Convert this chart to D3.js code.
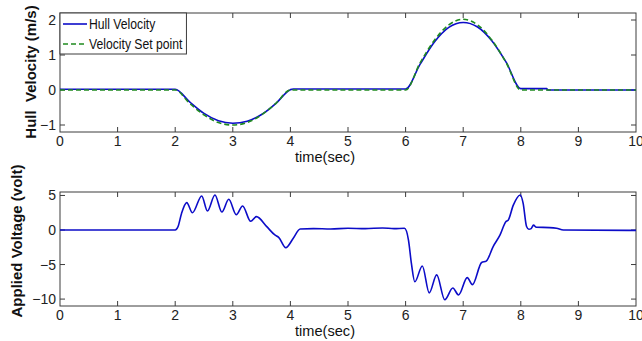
<!DOCTYPE html>
<html>
<head>
<meta charset="utf-8">
<script src="https://cdn.jsdelivr.net/npm/d3@7"></script>
<style>
  body { margin: 0; background: #fff; }
  svg { display: block; }
</style>
</head>
<body>
<svg id="svg" width="642" height="341"></svg>
<script>
// time axis + tick labels
const xTicks = [0, 1, 2, 3, 4, 5, 6, 7, 8, 9, 10]
const velTicks = [-1, 0, 1, 2]
const voltTicks = [-10, -5, 0, 5]

// velocity set point (m/s)
const spTime = [0, 2, 2.25, 2.5, 2.75, 3, 3.25, 3.5, 3.75, 4, 6, 6.25, 6.5, 6.75, 7, 7.25, 7.5, 7.75, 8, 10]
const spValue = [0, 0, -0.38, -0.71, -0.93, -1.0, -0.93, -0.71, -0.38, 0, 0, 0.77, 1.42, 1.86, 2.02, 1.86, 1.42, 0.77, 0, 0]

// measured hull velocity (m/s)
const hullTime = [0, 2, 2.25, 2.5, 2.75, 3, 3.25, 3.5, 3.75, 4, 4.05, 6, 6.25, 6.5, 6.75, 7, 7.25, 7.5, 7.75, 8, 8.05, 8.45, 8.47, 10]
const hullValue = [0.02, 0.02, -0.34, -0.67, -0.88, -0.95, -0.89, -0.7, -0.38, 0.01, 0.03, 0.03, 0.73, 1.37, 1.79, 1.93, 1.8, 1.4, 0.78, 0.04, 0.04, 0.04, 0, 0]

// applied voltage (volt)
const voltTime = [0, 2, 2.05, 2.11, 2.2, 2.3, 2.46, 2.56, 2.69, 2.81, 2.93, 3.06, 3.17, 3.31, 3.41, 3.59, 3.73, 3.8, 3.92, 4.05, 4.17, 4.4, 4.7, 5.0, 5.3, 5.6, 5.8, 5.98, 6.05, 6.1, 6.16, 6.29, 6.41, 6.54, 6.68, 6.82, 6.92, 7.07, 7.16, 7.32, 7.4, 7.52, 7.64, 7.74, 7.78, 7.87, 7.99, 8.04, 8.1, 8.14, 8.18, 8.22, 8.27, 8.5, 8.62, 8.74, 10]
const voltValue = [0, 0, 0.5, 2.4, 3.96, 2.5, 4.93, 2.75, 5.07, 2.6, 4.44, 2.22, 3.48, 1.26, 1.93, 0.48, -0.72, -1.1, -2.56, -1.2, 0.14, 0.2, 0.15, 0.25, 0.2, 0.3, 0.2, 0.25, -1.45, -4.8, -7.5, -5.2, -9.1, -6.5, -10.1, -8.4, -9.4, -6.9, -7.9, -4.7, -4.5, -2.4, -0.72, 1.2, 1.4, 3.6, 5.07, 3.9, 0.5, 0.1, 0.2, 0.7, 0.4, 0.35, 0.25, 0, -0.05]

const svg = d3.select('#svg')
const axisColor = '#3c3c3c'
const lineBlue = '#0c0cc8'
const lineGreen = '#1f8a1f'
const tickFont = '"Liberation Sans", Arial, sans-serif'

const drawPanel = ({ top, bottom, yDomain, yTicks, yLabel, yLabelX, yLabelY }) => {
  const x = d3.scaleLinear().domain([0, 10]).range([60, 636])
  const y = d3.scaleLinear().domain(yDomain).range([bottom, top])
  const g = svg.append('g')

  // ticks pointing inward on all four sides (matlab box)
  const tickLen = 5
  g.selectAll('.xt')
    .data(xTicks.slice(1, -1))
    .enter()
    .append('path')
    .attr('d', d => `M${x(d)},${bottom}v${-tickLen}M${x(d)},${top}v${tickLen}`)
    .attr('stroke', axisColor)
  g.selectAll('.yt')
    .data(yTicks)
    .enter()
    .append('path')
    .attr('d', d => `M60,${y(d)}h${tickLen}M636,${y(d)}h${-tickLen}`)
    .attr('stroke', axisColor)

  g.append('rect')
    .attr('x', 60)
    .attr('y', top)
    .attr('width', 576)
    .attr('height', bottom - top)
    .attr('fill', 'none')
    .attr('stroke', axisColor)

  g.selectAll('.xl')
    .data(xTicks)
    .enter()
    .append('text')
    .attr('x', d => x(d))
    .attr('y', bottom + 14)
    .attr('text-anchor', 'middle')
    .attr('font-family', tickFont)
    .attr('font-size', '14px')
    .attr('fill', '#222')
    .text(d => d)

  g.selectAll('.yl')
    .data(yTicks)
    .enter()
    .append('text')
    .attr('x', 56)
    .attr('y', d => y(d) + 5)
    .attr('text-anchor', 'end')
    .attr('font-family', tickFont)
    .attr('font-size', '14px')
    .attr('fill', '#222')
    .text(d => d3.format('')(d))

  g.append('text')
    .attr('x', 325)
    .attr('y', bottom + 30)
    .attr('text-anchor', 'middle')
    .attr('font-family', tickFont)
    .attr('font-size', '14px')
    .attr('fill', '#111')
    .attr('textLength', 60)
    .attr('lengthAdjust', 'spacingAndGlyphs')
    .text('time(sec)')

  g.append('text')
    .attr('transform', `translate(${yLabelX}, ${yLabelY}) rotate(-90)`)
    .attr('text-anchor', 'middle')
    .attr('font-family', '"Liberation Sans", Arial, sans-serif')
    .attr('font-weight', 'bold')
    .attr('font-size', '15px')
    .attr('fill', '#111')
    .attr('xml:space', 'preserve')
    .text(yLabel)

  return { x, y, g }
}

const velPanel = drawPanel({
  top: 13,
  bottom: 132,
  yDomain: [-1.2, 2.2],
  yTicks: velTicks,
  yLabel: 'Hull  Velocity (m/s)',
  yLabelX: 36,
  yLabelY: 72,
})

const velLine = (times, values) =>
  d3
    .line()
    .x(i => velPanel.x(times[i]))
    .y(i => velPanel.y(values[i]))
    .curve(d3.curveMonotoneX)(d3.range(times.length))

velPanel.g
  .append('path')
  .attr('d', velLine(hullTime, hullValue))
  .attr('fill', 'none')
  .attr('stroke', lineBlue)
  .attr('stroke-width', 1.6)

velPanel.g
  .append('path')
  .attr('d', velLine(spTime, spValue))
  .attr('fill', 'none')
  .attr('stroke', lineGreen)
  .attr('stroke-width', 1.6)
  .attr('stroke-dasharray', '5,3')

// legend
const legend = velPanel.g.append('g')
const legendBox = legend
  .append('rect')
  .attr('x', 60)
  .attr('y', 13)
  .attr('height', 41)
  .attr('fill', '#fff')
  .attr('stroke', axisColor)
const items = [
  { label: 'Hull Velocity', color: lineBlue, dash: null, y: 24 },
  { label: 'Velocity Set point', color: lineGreen, dash: '5,3', y: 44 },
]
let maxW = 0
items.forEach(it => {
  legend
    .append('line')
    .attr('x1', 63)
    .attr('x2', 87)
    .attr('y1', it.y)
    .attr('y2', it.y)
    .attr('stroke', it.color)
    .attr('stroke-width', 1.6)
    .attr('stroke-dasharray', it.dash)
  const t = legend
    .append('text')
    .attr('x', 89)
    .attr('y', it.y + 5)
    .attr('font-family', tickFont)
    .attr('font-size', '14px')
    .attr('fill', '#111')
    .text(it.label)
  // narrow it a bit, like the matlab helvetica
  const w = t.node().getComputedTextLength() * 0.87
  t.attr('textLength', w).attr('lengthAdjust', 'spacingAndGlyphs')
  maxW = Math.max(maxW, w)
})
legendBox.attr('width', 89 + maxW + 4 - 60)

const voltPanel = drawPanel({
  top: 192,
  bottom: 306,
  yDomain: [-11, 5.5],
  yTicks: voltTicks,
  yLabel: 'Applied Voltage (volt)',
  yLabelX: 22,
  yLabelY: 241,
})

voltPanel.g
  .append('path')
  .attr(
    'd',
    d3
      .line()
      .x(i => voltPanel.x(voltTime[i]))
      .y(i => voltPanel.y(voltValue[i]))
      .curve(d3.curveMonotoneX)(d3.range(voltTime.length)),
  )
  .attr('fill', 'none')
  .attr('stroke', lineBlue)
  .attr('stroke-width', 1.6)
</script>
</body>
</html>
